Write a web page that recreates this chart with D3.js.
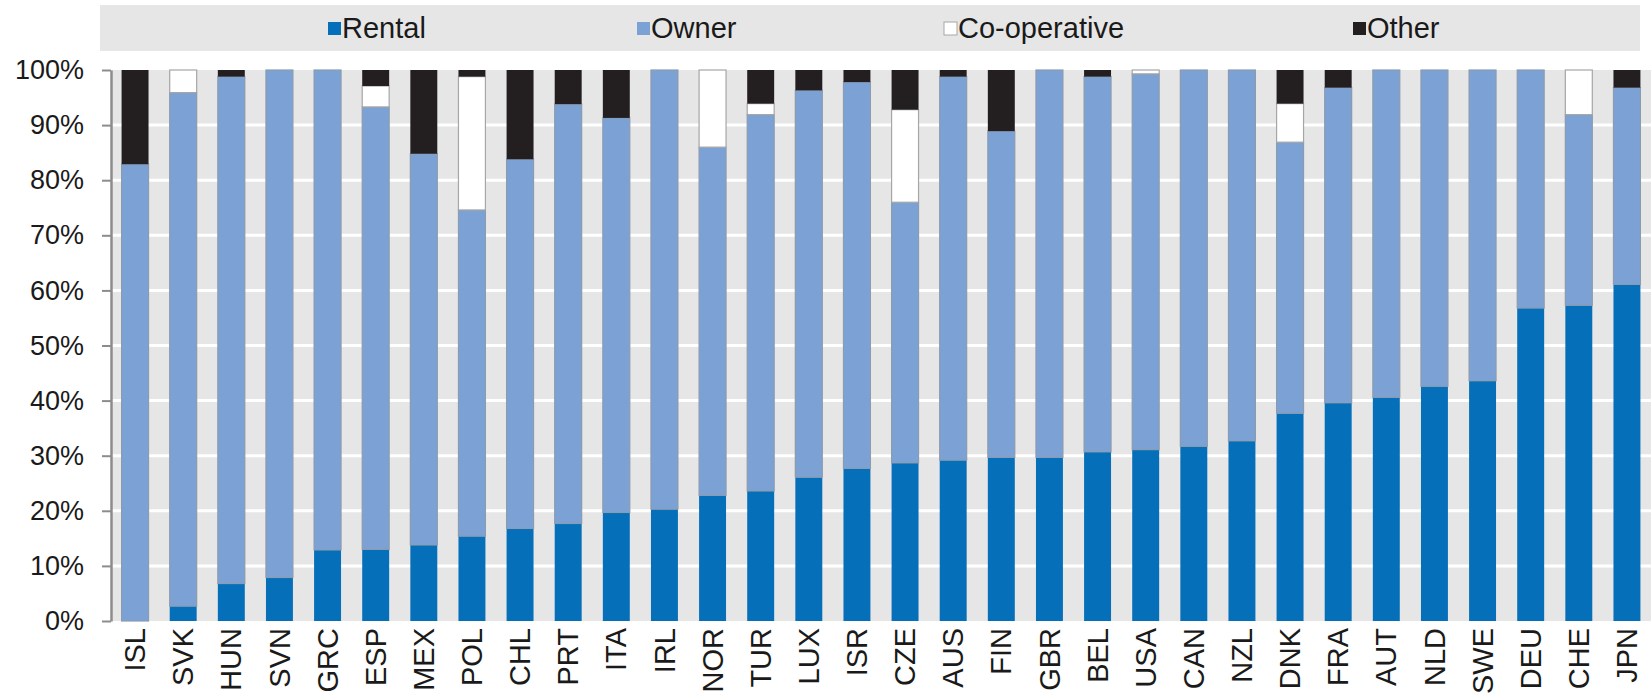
<!DOCTYPE html>
<html>
<head>
<meta charset="utf-8">
<script src="https://cdn.jsdelivr.net/npm/d3@7"></script>
<style>
  html, body { margin: 0; padding: 0; background: #fff; }
  text { font-family: "Liberation Sans", Arial, sans-serif; fill: #1a1a1a; }
</style>
</head>
<body>
<div id="chart"></div>
<script>
// values (% of households)
var countries = ['ISL', 'SVK', 'HUN', 'SVN', 'GRC', 'ESP', 'MEX', 'POL', 'CHL', 'PRT', 'ITA', 'IRL', 'NOR', 'TUR', 'LUX', 'ISR',
    'CZE', 'AUS', 'FIN', 'GBR', 'BEL', 'USA', 'CAN', 'NZL', 'DNK', 'FRA', 'AUT', 'NLD', 'SWE', 'DEU', 'CHE', 'JPN'];
var rental = [0, 2.7, 6.8, 7.9, 12.9, 13.0, 13.8, 15.4, 16.8, 17.7, 19.7, 20.3, 22.8, 23.6, 26.1, 27.7,
    28.7, 29.2, 29.7, 29.7, 30.7, 31.1, 31.7, 32.7, 37.7, 39.6, 40.6, 42.6, 43.6, 56.8, 57.3, 61.1];
var owner = [82.9, 93.2, 92.0, 92.1, 87.1, 80.3, 71.0, 59.2, 67.0, 76.1, 71.6, 79.7, 63.2, 68.3, 70.2, 70.1,
    47.3, 69.6, 59.2, 70.3, 68.1, 68.2, 68.3, 67.3, 49.2, 57.2, 59.4, 57.4, 56.4, 43.2, 34.6, 35.7];
var coop = [0, 4.1, 0, 0, 0, 3.8, 0, 24.2, 0, 0, 0, 0, 14.0, 2.0, 0, 0,
    16.8, 0, 0, 0, 0, 0.7, 0, 0, 7.0, 0, 0, 0, 0, 0, 8.1, 0];
var other = [17.1, 0, 1.2, 0, 0, 2.9, 15.2, 1.2, 16.2, 6.2, 8.7, 0, 0, 6.1, 3.7, 2.2,
    7.2, 1.2, 11.1, 0, 1.2, 0, 0, 0, 6.1, 3.2, 0, 0, 0, 0, 0, 3.2];
var seriesNames = ['Rental', 'Owner', 'Co-operative', 'Other'];
var yTicks = [0, 10, 20, 30, 40, 50, 60, 70, 80, 90, 100];

var colors = {'Rental': '#0570b9', 'Owner': '#7ca2d5', 'Co-operative': '#ffffff', 'Other': '#231f20'};
var strokes = {'Rental': 'none', 'Owner': '#8b9bb0', 'Co-operative': '#a6a6a6', 'Other': 'none'};
var legendLeft = [328, 637, 944, 1353];

var W = 1651, H = 695;
var margin = {top: 70, right: 0, bottom: 74, left: 111};
var width = W - margin.left - margin.right;
var height = H - margin.top - margin.bottom;

var rows = countries.map(function(c, i) {
    return {country: c, 'Rental': rental[i], 'Owner': owner[i], 'Co-operative': coop[i], 'Other': other[i]};
});

var svg = d3.select('#chart').append('svg')
    .attr('width', W).attr('height', H);

// legend band
var legend = svg.append('g');
legend.append('rect')
    .attr('x', 100).attr('y', 5)
    .attr('width', 1540).attr('height', 46)
    .attr('fill', '#e6e6e6');
var li = legend.selectAll('g.item').data(seriesNames).enter().append('g')
    .attr('class', 'item')
    .attr('transform', function(d, i) { return 'translate(' + legendLeft[i] + ',28)'; });
li.append('rect')
    .attr('x', 0).attr('y', -6).attr('width', 13).attr('height', 13)
    .attr('fill', function(d) { return colors[d]; })
    .attr('stroke', function(d) { return d === 'Co-operative' ? '#a6a6a6' : 'none'; });
li.append('text')
    .attr('x', 14).attr('y', 10)
    .style('font-size', '29px')
    .text(function(d) { return d; });

var g = svg.append('g').attr('transform', 'translate(' + margin.left + ',' + margin.top + ')');

var x = d3.scaleBand().domain(countries).range([0, width]).paddingInner(0.44).paddingOuter(0.22);
var y = d3.scaleLinear().domain([0, 100]).range([height, 0]);

// plot background + white gridlines
g.append('rect').attr('x', 0).attr('y', 0).attr('width', width).attr('height', height).attr('fill', '#e6e6e6');
g.append('g').selectAll('line').data(yTicks.slice(1, -1)).enter().append('line')
    .attr('x1', 0).attr('x2', width)
    .attr('y1', function(d) { return y(d); }).attr('y2', function(d) { return y(d); })
    .attr('stroke', '#fff').attr('stroke-width', 3);

var stack = d3.stack().keys(seriesNames);
var layers = stack(rows);

g.append('g').selectAll('g').data(layers).enter().append('g')
    .attr('fill', function(d) { return colors[d.key]; })
    .attr('stroke', function(d) { return strokes[d.key]; })
    .attr('stroke-width', 1.2)
    .selectAll('rect').data(function(d) { return d.filter(function(p) { return p[1] - p[0] > 0; }); })
    .enter().append('rect')
        .attr('x', function(d) { return x(d.data.country); })
        .attr('width', x.bandwidth())
        .attr('y', function(d) { return y(d[1]); })
        .attr('height', function(d) { return y(d[0]) - y(d[1]); });

// y axis
var yAxis = g.append('g')
    .call(d3.axisLeft(y).tickValues(yTicks).tickSize(9).tickSizeOuter(0).tickPadding(18)
        .tickFormat(function(d) { return d + '%'; }));
yAxis.select('.domain').attr('stroke', '#8c8c8c').attr('stroke-width', 2.5);
yAxis.selectAll('.tick line').attr('stroke', '#8c8c8c').attr('stroke-width', 2);
yAxis.selectAll('.tick text').style('font-size', '27px').attr('fill', '#1a1a1a');

// x labels
var xAxis = g.append('g')
    .attr('transform', 'translate(0,' + height + ')')
    .call(d3.axisBottom(x).tickSize(0).tickPadding(0));
xAxis.select('.domain').remove();
xAxis.selectAll('.tick text')
    .style('font-size', '29px')
    .attr('fill', '#1a1a1a')
    .attr('text-anchor', 'end')
    .attr('dy', '0.35em')
    .attr('transform', 'translate(0,7) rotate(-90)');
</script>
</body>
</html>
